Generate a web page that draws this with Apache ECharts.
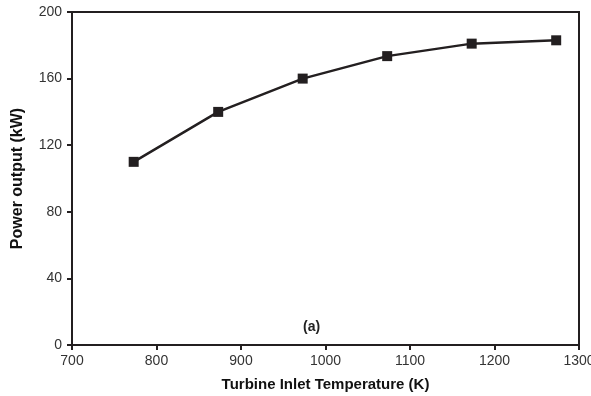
<!DOCTYPE html>
<html>
<head>
<meta charset="utf-8">
<script src="https://cdn.jsdelivr.net/npm/echarts@6/dist/echarts.min.js"></script>
<style>
  html, body { margin: 0; padding: 0; background: #fff; }
  #chart { width: 591px; height: 396px; }
</style>
</head>
<body>
<div id="chart"></div>
<script>
// turbine inlet temperature (K) vs power output (kW)
var temps = [773, 873, 973, 1073, 1173, 1273];
var power = [110, 140, 160, 173.5, 181, 183];
var xTicks = [700, 800, 900, 1000, 1100, 1200, 1300];
var yTicks = [0, 40, 80, 120, 160, 200];

var axisColor = '#231f20';
var fontName = '"Liberation Sans", Arial, sans-serif';

var myChart = echarts.init(document.getElementById('chart'));

var points = [];
for (var i = 0; i < temps.length; i++) {
    points.push([temps[i], power[i]]);
}

myChart.setOption({
    animation: false,
    backgroundColor: '#fff',
    grid: {
        left: 72, right: 12, top: 12, bottom: 51,
        outerBoundsMode: 'none',
        containLabel: false,
        show: true, borderColor: axisColor, borderWidth: 2
    },
    xAxis: {
        type: 'value',
        min: xTicks[0], max: xTicks[xTicks.length - 1], interval: 100,
        name: 'Turbine Inlet Temperature (K)',
        nameLocation: 'middle', nameGap: 32,
        nameTextStyle: { fontFamily: fontName, fontWeight: 'bold', fontSize: 15, color: '#111' },
        axisLine: { show: true, lineStyle: { color: axisColor, width: 2 } },
        axisTick: { show: true, inside: false, length: 5, lineStyle: { color: axisColor, width: 2 } },
        axisLabel: {
            margin: 9, fontFamily: fontName, fontSize: 14, color: '#333', showMaxLabel: true,
            formatter: function (v) { return String(v); }
        },
        splitLine: { show: false }
    },
    yAxis: {
        type: 'value',
        min: yTicks[0], max: yTicks[yTicks.length - 1], interval: 40,
        name: 'Power output (kW)',
        nameLocation: 'middle', nameGap: 46,
        nameTextStyle: { fontFamily: fontName, fontWeight: 'bold', fontSize: 16, color: '#111' },
        axisLine: { show: true, lineStyle: { color: axisColor, width: 2 } },
        axisTick: { show: true, inside: false, length: 5, lineStyle: { color: axisColor, width: 2 } },
        axisLabel: { margin: 10, fontFamily: fontName, fontSize: 14, color: '#333' },
        splitLine: { show: false }
    },
    graphic: [{
        type: 'text',
        left: 303, top: 320,
        style: { text: '(a)', font: 'bold 14px ' + fontName, fill: '#222' }
    }],
    series: [{
        type: 'line',
        data: points,
        symbol: 'rect',
        symbolSize: 10,
        lineStyle: { color: '#231f20', width: 2.5 },
        itemStyle: { color: '#231f20' }
    }]
});
</script>
</body>
</html>
